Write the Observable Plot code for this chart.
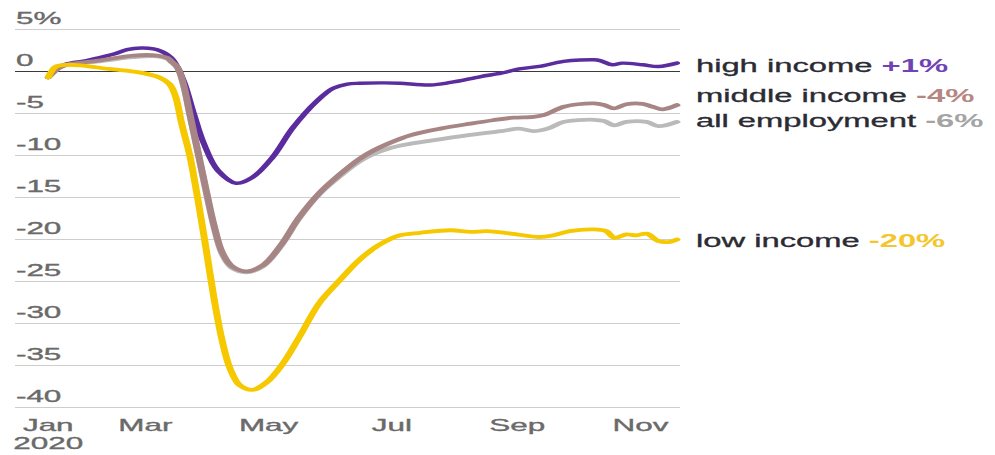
<!DOCTYPE html>
<html>
<head>
<meta charset="utf-8">
<script src="https://cdn.jsdelivr.net/npm/d3@7"></script>
<script src="https://cdn.jsdelivr.net/npm/@observablehq/plot@0.6"></script>
<style>
  html, body { margin: 0; background: #fff; }
  #chart svg { display: block; }
  #chart svg g[aria-label$="tick label"] text { stroke: #6a6a6a; stroke-width: 0.35px; paint-order: stroke; }
  #chart svg g[aria-description^="label"] text { stroke: #2b2b33; stroke-width: 0.3px; paint-order: stroke; }
  #chart svg g[aria-description^="label"] tspan.value { stroke: none; }
</style>
</head>
<body>
<div id="chart"></div>
<script>
// Change in employment since January 2020, by wage level (%)
const highIncome = [
  ["2020-01-13", -0.7], ["2020-01-18", 0.5], ["2020-01-22", 0.9], ["2020-02-01", 1.3],
  ["2020-02-08", 1.7], ["2020-02-15", 2.1], ["2020-02-21", 2.6], ["2020-02-28", 2.8],
  ["2020-03-05", 2.7], ["2020-03-09", 2.4], ["2020-03-12", 2.0], ["2020-03-15", 1.3],
  ["2020-03-20", -1.1], ["2020-03-25", -5.0], ["2020-03-30", -8.6], ["2020-04-06", -11.8],
  ["2020-04-15", -13.3], ["2020-04-23", -12.6], ["2020-05-03", -10.2], ["2020-05-13", -6.7],
  ["2020-05-25", -3.5], ["2020-06-02", -2.0], ["2020-06-09", -1.5], ["2020-06-15", -1.4],
  ["2020-06-27", -1.35], ["2020-07-05", -1.4], ["2020-07-20", -1.6], ["2020-07-30", -1.3],
  ["2020-08-14", -0.6], ["2020-08-24", -0.2], ["2020-09-02", 0.3], ["2020-09-12", 0.6],
  ["2020-09-24", 1.2], ["2020-10-09", 1.4], ["2020-10-12", 1.3], ["2020-10-18", 0.8],
  ["2020-10-23", 1.0], ["2020-11-02", 0.8], ["2020-11-10", 0.6], ["2020-11-19", 1]
];
const middleIncome = [
  ["2020-01-13", -0.7], ["2020-01-18", 0.4], ["2020-01-22", 0.8], ["2020-02-07", 1.3],
  ["2020-02-24", 1.9], ["2020-03-07", 1.9], ["2020-03-12", 1.6], ["2020-03-14", 1.2],
  ["2020-03-17", 0.5], ["2020-03-20", -1.6], ["2020-03-23", -5.0], ["2020-03-27", -9.5],
  ["2020-03-31", -14.0], ["2020-04-04", -18.3], ["2020-04-08", -21.5], ["2020-04-13", -23.2],
  ["2020-04-20", -23.8], ["2020-04-28", -23.1], ["2020-05-07", -20.7], ["2020-05-16", -17.4],
  ["2020-05-26", -14.5], ["2020-06-05", -12.3], ["2020-06-15", -10.4], ["2020-06-22", -9.4],
  ["2020-06-29", -8.6], ["2020-07-10", -7.6], ["2020-07-25", -6.8], ["2020-08-09", -6.2],
  ["2020-08-20", -5.8], ["2020-08-30", -5.5], ["2020-09-09", -5.4], ["2020-09-14", -5.2],
  ["2020-09-24", -4.2], ["2020-10-01", -3.9], ["2020-10-09", -3.8], ["2020-10-14", -4.0],
  ["2020-10-19", -4.4], ["2020-10-25", -3.9], ["2020-11-02", -3.85], ["2020-11-07", -4.2],
  ["2020-11-12", -4.5], ["2020-11-19", -4]
];
const allEmployment = [
  ["2020-01-13", -0.7], ["2020-01-18", 0.4], ["2020-01-22", 0.8], ["2020-02-07", 1.2],
  ["2020-02-24", 1.7], ["2020-03-07", 1.8], ["2020-03-12", 1.5], ["2020-03-14", 1.1],
  ["2020-03-17", 0.4], ["2020-03-20", -1.7], ["2020-03-23", -5.1], ["2020-03-27", -9.6],
  ["2020-03-31", -14.2], ["2020-04-04", -18.5], ["2020-04-08", -21.7], ["2020-04-13", -23.4],
  ["2020-04-20", -23.9], ["2020-04-28", -23.2], ["2020-05-07", -20.8], ["2020-05-16", -17.5],
  ["2020-05-26", -14.6], ["2020-06-05", -12.5], ["2020-06-15", -10.7], ["2020-06-22", -9.8],
  ["2020-06-29", -9.2], ["2020-07-08", -8.7], ["2020-07-21", -8.2], ["2020-08-07", -7.6],
  ["2020-08-24", -7.1], ["2020-09-02", -6.8], ["2020-09-09", -7.1], ["2020-09-16", -6.8],
  ["2020-09-24", -6.0], ["2020-10-01", -5.8], ["2020-10-09", -5.75], ["2020-10-14", -5.9],
  ["2020-10-19", -6.4], ["2020-10-25", -6.0], ["2020-11-04", -6.0], ["2020-11-10", -6.5],
  ["2020-11-19", -6]
];
const lowIncome = [
  ["2020-01-13", -0.7], ["2020-01-17", 0.6], ["2020-01-22", 0.8], ["2020-01-30", 0.7],
  ["2020-02-12", 0.3], ["2020-02-27", -0.1], ["2020-03-08", -0.7], ["2020-03-13", -1.5],
  ["2020-03-16", -3.0], ["2020-03-19", -6.2], ["2020-03-23", -10.0], ["2020-03-27", -15.2],
  ["2020-03-31", -21.0], ["2020-04-04", -27.0], ["2020-04-08", -32.0], ["2020-04-12", -35.4],
  ["2020-04-17", -37.4], ["2020-04-23", -37.9], ["2020-04-30", -37.0], ["2020-05-08", -34.8],
  ["2020-05-16", -31.7], ["2020-05-26", -27.6], ["2020-06-05", -24.9], ["2020-06-15", -22.4],
  ["2020-06-25", -20.6], ["2020-07-05", -19.5], ["2020-07-15", -19.2], ["2020-07-30", -18.9],
  ["2020-08-09", -19.1], ["2020-08-17", -19.0], ["2020-08-29", -19.3], ["2020-09-12", -19.7],
  ["2020-09-19", -19.5], ["2020-09-27", -19.0], ["2020-10-09", -18.8], ["2020-10-15", -19.0],
  ["2020-10-19", -19.8], ["2020-10-25", -19.4], ["2020-10-30", -19.5], ["2020-11-04", -19.3],
  ["2020-11-10", -20.2], ["2020-11-15", -20.3], ["2020-11-19", -20]
];

const seriesNames = ["high income", "middle income", "all employment", "low income"];
const yTicks = [5, 0, -5, -10, -15, -20, -25, -30, -35, -40];
const xTickDates = ["2020-01-13", "2020-03-01", "2020-05-01", "2020-07-01", "2020-09-01", "2020-11-01"];
const xTickLabels = ["Jan\n2020", "Mar", "May", "Jul", "Sep", "Nov"];

// ---- drawing ----
const rows = (pairs) => pairs.map(([d, v]) => ({date: new Date(d), value: v}));
const series = [highIncome, middleIncome, allEmployment, lowIncome].map(rows);

const FULL_W = 995, FULL_H = 455;
const SX = 1.85;                     // horizontal stretch of the drawing
const W = FULL_W / SX;

const lineColor = ["#5a2c9e", "#a88585", "#bababa", "#f6c800"];
const valueColor = ["#7043b4", "#b58782", "#a4a4a4", "#f4c62c"];
const lineWidth = [3.4, 3.8, 3.8, 3.8];
const labelNudge = [3.7, -8.3, -0.6, 2.3];
const drawOrder = [2, 0, 1, 3];

const fmtValue = (v) => (v > 0 ? "+" : "") + Math.round(v) + "%";

const marks = [
  Plot.ruleY(yTicks.filter((d) => d !== 0), {stroke: "#cdcdcd", strokeWidth: 1}),
  Plot.ruleY([0], {stroke: "#3a3a3a", strokeWidth: 1}),
  Plot.axisY(yTicks, {
    anchor: "left", tickSize: 0, tickPadding: 0, textAnchor: "start", dy: -11.4,
    fontSize: 17, fill: "#6a6a6a", label: null,
    tickFormat: (d) => (d === 5 ? "5%" : String(d))
  }),
  Plot.axisX(xTickDates.map((d) => new Date(d)), {
    tickSize: 0, tickPadding: 11, fontSize: 17, fill: "#6a6a6a", lineHeight: 1.06, label: null,
    tickFormat: (d, i) => xTickLabels[i]
  })
];

for (const i of drawOrder) {
  marks.push(Plot.line(series[i], {
    x: "date", y: "value", stroke: lineColor[i], strokeWidth: lineWidth[i],
    curve: "catmull-rom", strokeLinejoin: "round", strokeLinecap: "round"
  }));
}

series.forEach((s, i) => {
  const last = s[s.length - 1];
  marks.push(Plot.text([last], {
    x: "date", y: "value", text: (d) => `${seriesNames[i]} ${fmtValue(d.value)}`,
    textAnchor: "start", dx: 10.3, dy: labelNudge[i], fontSize: 17.7,
    fill: "#2b2b33", ariaDescription: `label ${i}`
  }));
});

const svg = Plot.plot({
  width: W,
  height: FULL_H,
  marginLeft: 15 / SX,
  marginRight: (FULL_W - 680) / SX,
  marginTop: 29,
  marginBottom: 48,
  x: {type: "utc", domain: [new Date("2019-12-28"), new Date("2020-11-21")], label: null},
  y: {domain: [-40, 5], label: null},
  style: {fontFamily: "'Liberation Sans', Arial, sans-serif", background: "#fff", overflow: "visible"},
  marks
});

// colour the value part of each end label
series.forEach((s, i) => {
  d3.select(svg).selectAll(`g[aria-description="label ${i}"] text`).each(function () {
    const full = this.textContent;
    const cut = full.lastIndexOf(" ");
    const t = d3.select(this).text(null);
    t.append("tspan").text(full.slice(0, cut + 1));
    t.append("tspan").attr("class", "value").attr("fill", valueColor[i])
      .attr("font-weight", "bold").text(full.slice(cut + 1));
  });
});

svg.setAttribute("width", FULL_W);
svg.setAttribute("height", FULL_H);
svg.setAttribute("preserveAspectRatio", "none");
svg.style.width = FULL_W + "px";
svg.style.height = FULL_H + "px";
svg.style.maxWidth = "none";
document.getElementById("chart").appendChild(svg);
</script>
</body>
</html>
